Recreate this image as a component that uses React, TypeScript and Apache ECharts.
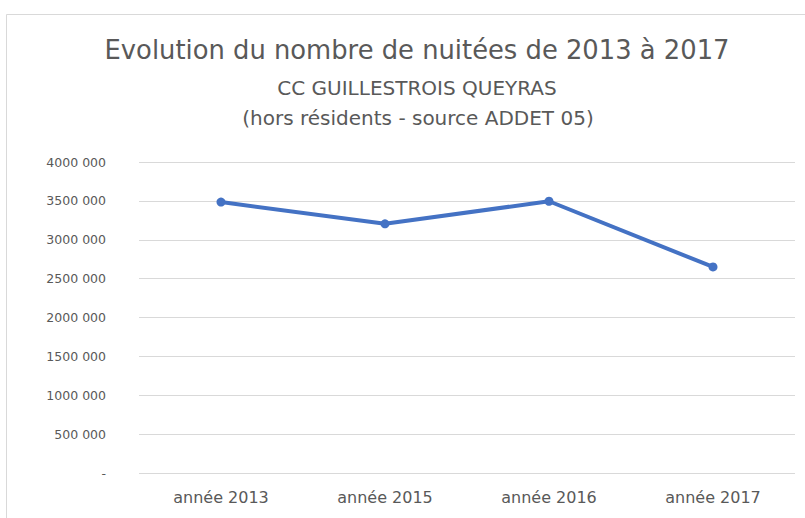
import React, { useEffect, useRef } from "react";
import * as echarts from "echarts";

const categories = ["année 2013", "année 2015", "année 2016", "année 2017"];
const nuitees = [3485000, 3205000, 3495000, 2650000];
const yTicks = [0, 500000, 1000000, 1500000, 2000000, 2500000, 3000000, 3500000, 4000000];
const yTickLabels = ["-", "500 000", "1000 000", "1500 000", "2000 000", "2500 000", "3000 000", "3500 000", "4000 000"];
const titleLines = [
  "Evolution du nombre de nuitées de 2013 à 2017",
  "CC GUILLESTROIS QUEYRAS",
  "(hors résidents - source ADDET 05)",
];

const FONT = "'DejaVu Sans', sans-serif";

export default function App() {
  const ref = useRef<HTMLDivElement>(null);
  useEffect(() => {
    if (!ref.current) return;
    const chart = echarts.init(ref.current, null, { renderer: "svg" });
    chart.setOption({
      animation: false,
      backgroundColor: "#ffffff",
      graphic: [
        {
          type: "rect",
          shape: { x: 6.5, y: 14.5, width: 830, height: 530 },
          style: { fill: "none", stroke: "#d9d9d9", lineWidth: 1 },
          silent: true,
        },
      ],
      title: [
        {
          text: titleLines[0],
          left: 412,
          textAlign: "center",
          top: 32,
          textStyle: { fontFamily: FONT, fontSize: 25.8, fontWeight: "normal", color: "#595959" },
        },
        {
          text: titleLines[1],
          left: 412,
          textAlign: "center",
          top: 73,
          textStyle: { fontFamily: FONT, fontSize: 20, fontWeight: "normal", color: "#595959" },
        },
        {
          text: titleLines[2],
          left: 413,
          textAlign: "center",
          top: 103,
          textStyle: { fontFamily: FONT, fontSize: 20, fontWeight: "normal", color: "#595959" },
        },
      ],
      grid: { left: 139, right: 10, top: 162, bottom: 45, containLabel: false },
      xAxis: {
        type: "category",
        data: categories,
        boundaryGap: true,
        axisLine: { show: false },
        axisTick: { show: false },
        axisLabel: { fontFamily: FONT, fontSize: 16, color: "#595959", margin: 16 },
      },
      yAxis: {
        type: "value",
        min: 0,
        max: 4000000,
        interval: 500000,
        axisLine: { show: false },
        axisTick: { show: false },
        splitLine: { lineStyle: { color: "#d9d9d9", width: 1 } },
        axisLabel: {
          fontFamily: FONT,
          fontSize: 12.5,
          color: "#595959",
          margin: 33,
          formatter: (v: number) => {
            const i = yTicks.indexOf(v);
            return i >= 0 ? yTickLabels[i] : "";
          },
        },
      },
      series: [
        {
          type: "line",
          data: nuitees,
          symbol: "circle",
          symbolSize: 9,
          lineStyle: { color: "#4472C4", width: 4 },
          itemStyle: { color: "#4472C4" },
        },
      ],
    });
    return () => chart.dispose();
  }, []);
  return (
    <div
      ref={ref}
      style={{ position: "fixed", left: 0, top: 0, width: 805, height: 518 }}
    />
  );
}
